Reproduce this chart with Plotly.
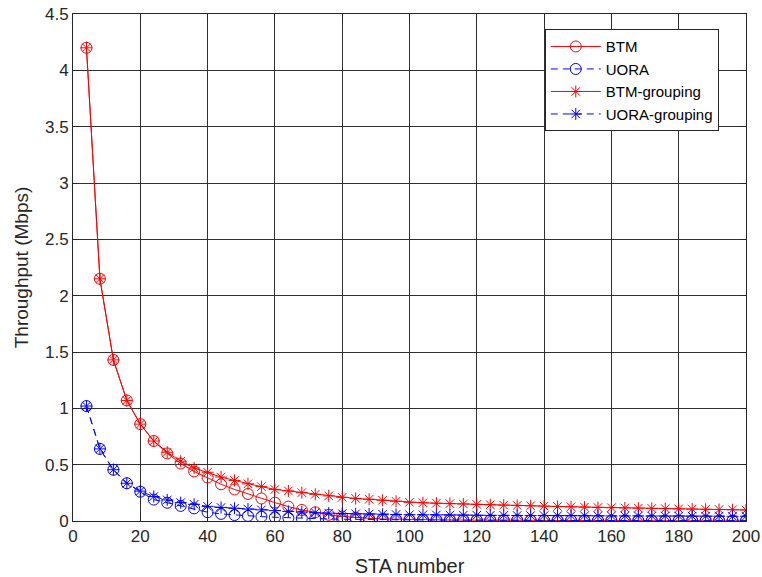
import plotly.graph_objects as go

sta = list(range(4, 201, 4))

btm = [4.20, 2.15, 1.43, 1.07, 0.86, 0.71, 0.60, 0.51, 0.44, 0.386,
       0.326, 0.28, 0.24, 0.20, 0.163, 0.128, 0.098, 0.077, 0.055, 0.040,
       0.030, 0.024, 0.018, 0.015, 0.013, 0.011, 0.010, 0.009, 0.008, 0.007,
       0.006, 0.006, 0.005, 0.005, 0.004, 0.004, 0.004, 0.003, 0.003, 0.003,
       0.003, 0.002, 0.002, 0.002, 0.002, 0.002, 0.002, 0.001, 0.001, 0.001]

uora = [1.02, 0.64, 0.455, 0.335, 0.26, 0.19, 0.162, 0.134, 0.112, 0.078,
        0.063, 0.053, 0.045, 0.039, 0.033, 0.028, 0.024, 0.021, 0.018, 0.016,
        0.014, 0.012, 0.011, 0.010, 0.009, 0.009, 0.008, 0.008, 0.007, 0.007,
        0.006, 0.006, 0.006, 0.005, 0.005, 0.005, 0.005, 0.004, 0.004, 0.004,
        0.004, 0.004, 0.003, 0.003, 0.003, 0.003, 0.003, 0.003, 0.003, 0.003]

btm_grouping = [4.20, 2.15, 1.43, 1.07, 0.86, 0.71, 0.61, 0.53, 0.47, 0.433,
                0.39, 0.36, 0.33, 0.305, 0.28, 0.267, 0.252, 0.237, 0.223, 0.21,
                0.20, 0.193, 0.184, 0.175, 0.166, 0.162, 0.158, 0.154, 0.151, 0.147,
                0.144, 0.141, 0.138, 0.135, 0.132, 0.129, 0.126, 0.123, 0.120, 0.118,
                0.116, 0.114, 0.112, 0.110, 0.108, 0.106, 0.104, 0.102, 0.100, 0.098]

uora_grouping = [1.02, 0.64, 0.455, 0.335, 0.265, 0.217, 0.187, 0.163, 0.148, 0.13,
                 0.12, 0.113, 0.106, 0.099, 0.092, 0.085, 0.079, 0.074, 0.070, 0.066,
                 0.064, 0.062, 0.060, 0.058, 0.056, 0.055, 0.054, 0.053, 0.052, 0.051,
                 0.050, 0.050, 0.049, 0.048, 0.048, 0.047, 0.047, 0.046, 0.046, 0.045,
                 0.045, 0.045, 0.044, 0.044, 0.044, 0.043, 0.043, 0.043, 0.042, 0.042]

RED = "rgb(255,0,0)"
BLUE = "rgb(0,0,255)"
DASH = "7px,5px"

fig = go.Figure()
fig.add_trace(go.Scatter(x=sta, y=btm, name="BTM", mode="lines+markers",
                         line=dict(color=RED, width=1),
                         marker=dict(symbol="circle-open", size=11, color=RED, line=dict(width=1, color=RED))))
fig.add_trace(go.Scatter(x=sta, y=uora, name="UORA", mode="lines+markers",
                         line=dict(color=BLUE, width=1, dash=DASH),
                         marker=dict(symbol="circle-open", size=11, color=BLUE, line=dict(width=1, color=BLUE))))
fig.add_trace(go.Scatter(x=sta, y=btm_grouping, name="BTM-grouping", mode="lines+markers",
                         line=dict(color=RED, width=1),
                         marker=dict(symbol="asterisk-open", size=10, color=RED, line=dict(width=1, color=RED))))
fig.add_trace(go.Scatter(x=sta, y=uora_grouping, name="UORA-grouping", mode="lines+markers",
                         line=dict(color=BLUE, width=1, dash=DASH),
                         marker=dict(symbol="asterisk-open", size=10, color=BLUE, line=dict(width=1, color=BLUE))))

axis_common = dict(
    showline=True, linecolor="#262626", linewidth=1, mirror="ticks",
    ticks="inside", ticklen=6, tickcolor="#262626",
    showgrid=True, gridcolor="#303030", gridwidth=1,
    zeroline=False, automargin=False, ticklabeloverflow="allow",
    tickfont=dict(family="Liberation Sans, Arial", size=17, color="#262626"),
)

fig.update_layout(
    width=762, height=577,
    margin=dict(l=73, r=16, t=14, b=56),
    paper_bgcolor="white", plot_bgcolor="white",
    font=dict(family="Liberation Sans, Arial", color="#262626"),
    xaxis=dict(range=[0, 200], dtick=20, tick0=0,
               title=dict(text="STA number", font=dict(size=20), standoff=13),
               **axis_common),
    yaxis=dict(range=[0, 4.5], dtick=0.5, tick0=0,
               title=dict(text="Throughput (Mbps)", font=dict(size=19), standoff=11),
               **axis_common),
    legend=dict(x=0.701, y=0.970, xanchor="left", yanchor="top",
                bgcolor="white", bordercolor="#262626", borderwidth=1,
                font=dict(size=15, color="black"), itemwidth=50,
                entrywidth=160, entrywidthmode="pixels",
                tracegroupgap=0),
    showlegend=True,
)

fig.write_html("out.html", config={"displayModeBar": False},
               post_script="document.body.style.margin='0';document.body.style.overflow='hidden';")
